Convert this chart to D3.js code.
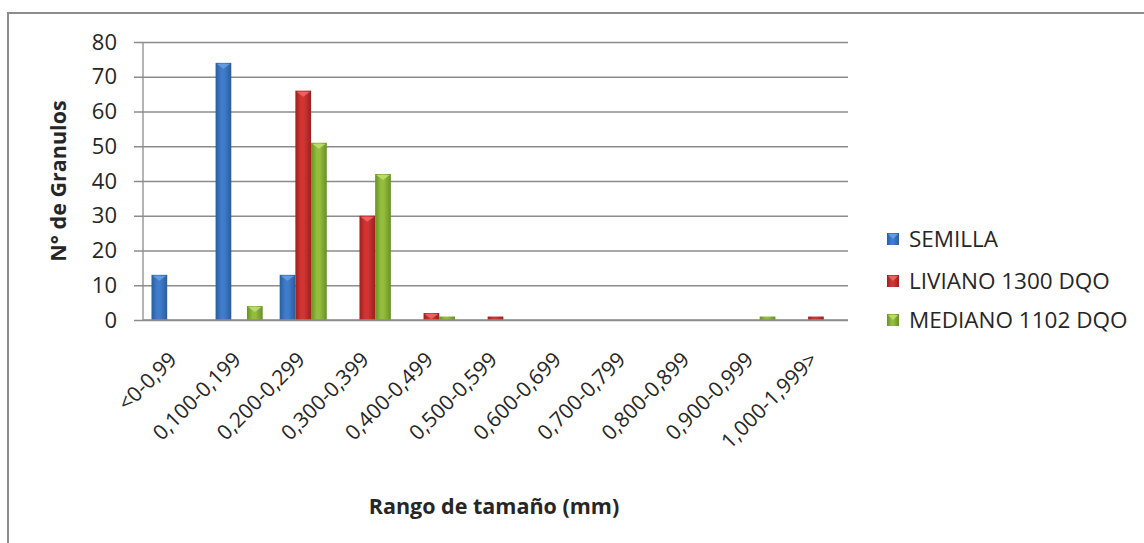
<!DOCTYPE html>
<html>
<head>
<meta charset="utf-8">
<script src="https://cdn.jsdelivr.net/npm/d3@7"></script>
<style>
    body { margin: 0; background: #fff; }
    text { font-family: 'Open Sans', sans-serif; fill: #262626; }
</style>
</head>
<body>
<svg id="chart" width="1144" height="543"></svg>
<script>
// chart data
var categories = ['<0-0,99', '0,100-0,199', '0,200-0,299', '0,300-0,399', '0,400-0,499', '0,500-0,599',
    '0,600-0,699', '0,700-0,799', '0,800-0,899', '0,900-0,999', '1,000-1,999>'];
var seriesNames = ['SEMILLA', 'LIVIANO 1300 DQO', 'MEDIANO 1102 DQO'];
var semilla = [13, 74, 13, 0, 0, 0, 0, 0, 0, 0, 0];
var liviano = [0, 0, 66, 30, 2, 1, 0, 0, 0, 0, 1];
var mediano = [0, 4, 51, 42, 1, 0, 0, 0, 0, 1, 0];
var yTicks = [0, 10, 20, 30, 40, 50, 60, 70, 80];

var colors = [
    { dark: '#2b5c9c', mid: '#3f7ccc', light: '#6aa0e4' },
    { dark: '#9c1f1f', mid: '#d23434', light: '#ee6a6a' },
    { dark: '#6a8f24', mid: '#93bd3c', light: '#c0e070' }
];

drawChart();

function drawChart() {
    var svg = d3.select('#chart');
    var plot = { left: 143, right: 848, top: 42, bottom: 320 };

    // gradients for the bevelled bars
    var defs = svg.append('defs');
    colors.forEach(function(c, i) {
        var g = defs.append('linearGradient')
            .attr('id', 'grad' + i)
            .attr('x1', '0%').attr('x2', '100%')
            .attr('y1', '0%').attr('y2', '0%');
        g.append('stop').attr('offset', '0%').attr('stop-color', c.dark);
        g.append('stop').attr('offset', '35%').attr('stop-color', c.mid);
        g.append('stop').attr('offset', '55%').attr('stop-color', c.mid);
        g.append('stop').attr('offset', '100%').attr('stop-color', c.dark);
    });

    // outer frame
    svg.append('rect')
        .attr('x', 8).attr('y', 13)
        .attr('width', 1160).attr('height', 560)
        .attr('fill', 'none')
        .attr('stroke', '#8c8c8c')
        .attr('stroke-width', 2);

    var x = d3.scaleBand()
        .domain(categories)
        .range([plot.left, plot.right])
        .paddingInner(0.265)
        .paddingOuter(0.1325);

    var xSeries = d3.scaleBand()
        .domain(d3.range(seriesNames.length))
        .range([0, x.bandwidth()]);

    var y = d3.scaleLinear()
        .domain([0, 80])
        .range([plot.bottom, plot.top]);

    // gridlines + y axis
    var yAxis = d3.axisLeft(y)
        .tickValues(yTicks)
        .tickSize(-(plot.right - plot.left))
        .tickPadding(26)
        .tickFormat(d3.format('d'));

    var yg = svg.append('g')
        .attr('transform', 'translate(' + plot.left + ',0)')
        .call(yAxis);
    yg.select('.domain').remove();
    yg.selectAll('.tick line')
        .attr('x1', -9)
        .attr('stroke', '#8c8c8c')
        .attr('stroke-width', 1.3);
    yg.selectAll('.tick text')
        .attr('font-size', '22px')
        .attr('fill', '#262626')
        .style('font-family', "'Open Sans', sans-serif");

    svg.append('line')
        .attr('x1', plot.left).attr('x2', plot.left)
        .attr('y1', plot.top).attr('y2', plot.bottom)
        .attr('stroke', '#8c8c8c')
        .attr('stroke-width', 1.3);

    // bars
    var allSeries = [semilla, liviano, mediano];
    var bars = [];
    allSeries.forEach(function(values, s) {
        values.forEach(function(v, i) {
            if (v > 0) bars.push({ s: s, cat: categories[i], value: v });
        });
    });

    var barG = svg.append('g');
    barG.selectAll('rect')
        .data(bars)
        .join('rect')
        .attr('x', d => x(d.cat) + xSeries(d.s))
        .attr('y', d => y(d.value))
        .attr('width', xSeries.bandwidth())
        .attr('height', d => y(0) - y(d.value))
        .attr('fill', d => 'url(#grad' + d.s + ')');

    // little bevel on top of every bar
    barG.selectAll('polygon')
        .data(bars.filter(d => y(0) - y(d.value) > 4))
        .join('polygon')
        .attr('points', function(d) {
            var x0 = x(d.cat) + xSeries(d.s) + 1,
                x1 = x0 + xSeries.bandwidth() - 2,
                top = y(d.value) + 1;
            return [[x0, top], [x1, top], [(x0 + x1) / 2, top + 5]].join(' ');
        })
        .attr('fill', d => colors[d.s].light)
        .attr('opacity', 0.85);

    // x axis
    svg.append('line')
        .attr('x1', plot.left).attr('x2', plot.right)
        .attr('y1', plot.bottom).attr('y2', plot.bottom)
        .attr('stroke', '#8c8c8c')
        .attr('stroke-width', 1.5);

    svg.append('g')
        .selectAll('text')
        .data(categories)
        .join('text')
        .attr('text-anchor', 'end')
        .attr('font-size', '21px')
        .attr('transform', d => 'translate(' + (x(d) + x.bandwidth() / 2 + 3) + ',' + (plot.bottom + 41) + ') rotate(-45)')
        .text(d => d);

    // axis titles
    svg.append('text')
        .attr('text-anchor', 'middle')
        .attr('font-size', '21.5px')
        .attr('font-weight', 'bold')
        .attr('transform', 'translate(66,181) rotate(-90)')
        .text('N° de Granulos');

    svg.append('text')
        .attr('x', 494)
        .attr('y', 514)
        .attr('text-anchor', 'middle')
        .attr('font-size', '21.5px')
        .attr('font-weight', 'bold')
        .text('Rango de tamaño (mm)');

    // legend
    var legend = svg.append('g')
        .selectAll('g')
        .data(seriesNames)
        .join('g')
        .attr('transform', (d, i) => 'translate(887,' + [239, 281, 320][i] + ')');

    legend.append('rect')
        .attr('x', 0).attr('y', -6)
        .attr('width', 12).attr('height', 12)
        .attr('fill', (d, i) => 'url(#grad' + i + ')');

    legend.append('polygon')
        .attr('points', '1,-5 11,-5 6,0')
        .attr('fill', (d, i) => colors[i].light)
        .attr('opacity', 0.85);

    legend.append('text')
        .attr('x', 22)
        .attr('dy', '0.36em')
        .attr('font-size', '22.5px')
        .text(d => d);
}
</script>
</body>
</html>
